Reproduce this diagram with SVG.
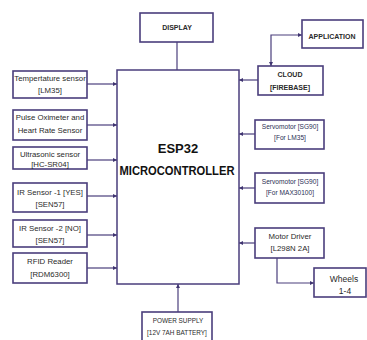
<svg xmlns="http://www.w3.org/2000/svg" width="367" height="340" viewBox="0 0 367 340">
<defs>
<marker id="ah" markerUnits="userSpaceOnUse" markerWidth="5" markerHeight="5" refX="4" refY="2.5" orient="auto">
<path d="M0,0.5 L4,2.5 L0,4.5 z" fill="#3f3470"/>
</marker>
<style>
.box{fill:#fff;stroke:#4a3e7c;stroke-width:1.6}
.main{fill:#fff;stroke:#4a3e7c;stroke-width:1.5}
.ln{fill:none;stroke:#4a3e7c;stroke-width:1.2;marker-end:url(#ah)}
.ln0{fill:none;stroke:#4a3e7c;stroke-width:1.2}
.ln2{fill:none;stroke:#4a3e7c;stroke-width:1.2;marker-start:url(#ahs);marker-end:url(#ah)}
text{font-family:"Liberation Sans",Arial,sans-serif;fill:#2a2a2a;text-anchor:middle}
.s{font-size:7.8px}
.r{font-size:6.6px;fill:#2b2f55}
.b{font-size:7px;font-weight:bold}
.big{font-size:13px;font-weight:bold;fill:#111}
</style>
<marker id="ahs" markerUnits="userSpaceOnUse" markerWidth="5" markerHeight="5" refX="4" refY="2.5" orient="auto-start-reverse">
<path d="M0,0.5 L4,2.5 L0,4.5 z" fill="#3f3470"/>
</marker>
</defs>
<rect width="367" height="340" fill="#fff"/>

<g id="connectors">
<line class="ln0" x1="177" y1="42" x2="177" y2="70"/>
<line class="ln" x1="87" y1="84" x2="117" y2="84"/>
<line class="ln" x1="87" y1="125" x2="117" y2="125"/>
<line class="ln" x1="87" y1="160" x2="117" y2="160"/>
<line class="ln" x1="87" y1="196" x2="117" y2="196"/>
<line class="ln" x1="87" y1="235" x2="117" y2="235"/>
<line class="ln" x1="87" y1="268" x2="117" y2="268"/>
<line class="ln" x1="258" y1="80" x2="239" y2="80"/>
<polyline class="ln2" points="271,66 271,35 302,35"/>
<line class="ln" x1="255" y1="134" x2="239" y2="134"/>
<line class="ln" x1="255" y1="188" x2="239" y2="188"/>
<line class="ln" x1="255" y1="243" x2="239" y2="243"/>
<polyline class="ln" points="277,258 277,283 314,283"/>
<line class="ln" x1="178" y1="312" x2="178" y2="284"/>
</g>

<g id="esp32">
<rect class="main" x="117" y="70" width="122" height="214"/>
<text class="big" x="178" y="153">ESP32</text>
<text class="big" x="177" y="175" textLength="115" lengthAdjust="spacingAndGlyphs">MICROCONTROLLER</text>
</g>

<g id="display">
<rect class="box" x="140" y="13" width="73" height="29"/>
<text class="b" x="177" y="30">DISPLAY</text>
</g>

<g id="application">
<rect class="box" x="302" y="20" width="61" height="28"/>
<text class="b" x="332" y="39">APPLICATION</text>
</g>

<g id="cloud">
<rect class="box" x="258" y="66" width="65" height="29"/>
<text class="b" x="290" y="77">CLOUD</text>
<text class="b" x="290" y="90">[FIREBASE]</text>
</g>

<g id="temp">
<rect class="box" x="13" y="71" width="74" height="27"/>
<text class="s" x="50" y="81">Tempertature sensor</text>
<text class="s" x="50" y="93">[LM35]</text>
</g>

<g id="pulse">
<rect class="box" x="13" y="110" width="74" height="30"/>
<text class="s" x="50" y="120">Pulse Oximeter and</text>
<text class="s" x="50" y="133">Heart Rate Sensor</text>
</g>

<g id="ultrasonic">
<rect class="box" x="13" y="147" width="74" height="22"/>
<text class="s" x="50" y="157">Ultrasonic sensor</text>
<text class="s" x="50" y="167">[HC-SR04]</text>
</g>

<g id="ir1">
<rect class="box" x="13" y="183" width="74" height="29"/>
<text class="s" x="50" y="195">IR Sensor -1 [YES]</text>
<text class="s" x="50" y="207">[SEN57]</text>
</g>

<g id="ir2">
<rect class="box" x="13" y="220" width="74" height="27"/>
<text class="s" x="50" y="231">IR Sensor -2 [NO]</text>
<text class="s" x="50" y="243">[SEN57]</text>
</g>

<g id="rfid">
<rect class="box" x="13" y="253" width="74" height="30"/>
<text class="s" x="50" y="264">RFID Reader</text>
<text class="s" x="50" y="277">[RDM6300]</text>
</g>

<g id="servo1">
<rect class="box" x="255" y="120" width="69" height="29"/>
<text class="r" x="290" y="129">Servomotor [SG90]</text>
<text class="r" x="290" y="140">[For LM35]</text>
</g>

<g id="servo2">
<rect class="box" x="255" y="173" width="69" height="30"/>
<text class="r" x="290" y="184">Servomotor [SG90]</text>
<text class="r" x="290" y="195">[For MAX30100]</text>
</g>

<g id="motordriver">
<rect class="box" x="255" y="228" width="69" height="30"/>
<text class="s" x="290" y="239">Motor Driver</text>
<text class="s" x="290" y="251">[L298N 2A]</text>
</g>

<g id="wheels">
<rect class="box" x="314" y="268" width="52" height="29"/>
<text style="font-size:8.5px" x="344" y="282">Wheels</text>
<text style="font-size:8.5px" x="345" y="294">1-4</text>
</g>

<g id="power">
<rect class="box" x="142" y="312" width="70" height="30"/>
<text style="font-size:6.4px" x="178" y="323">POWER SUPPLY</text>
<text style="font-size:6.4px" x="177" y="335">[12V 7AH BATTERY]</text>
</g>
</svg>
